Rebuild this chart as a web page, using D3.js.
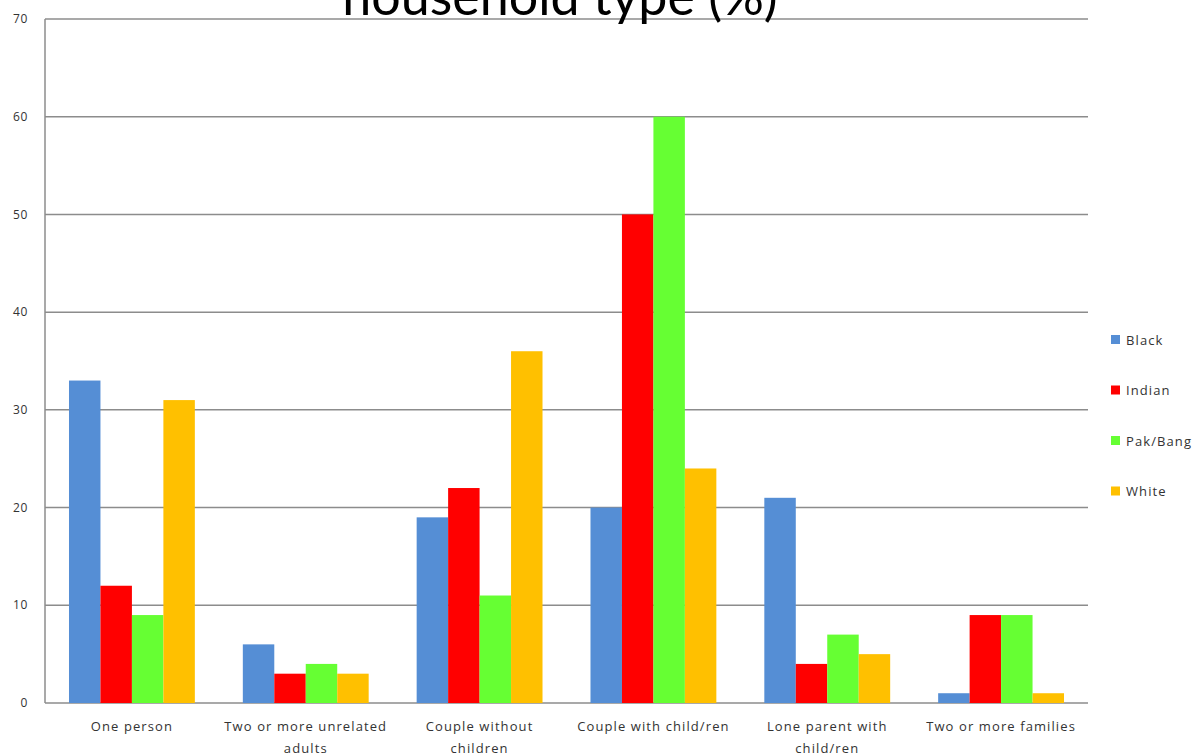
<!DOCTYPE html>
<html>
<head>
<meta charset="utf-8">
<script src="https://cdn.jsdelivr.net/npm/d3@7"></script>
<style>
  body { margin: 0; background: #fff; }
  svg text { font-family: "Open Sans", sans-serif; fill: #333; }
</style>
</head>
<body>
<svg id="chart" width="1200" height="756"></svg>
<script>
// data
const categories = ["One person", "Two or more unrelated adults", "Couple without children",
  "Couple with child/ren", "Lone parent with child/ren", "Two or more families"];
const categoryLines = [["One person"], ["Two or more unrelated", "adults"], ["Couple without", "children"],
  ["Couple with child/ren"], ["Lone parent with", "child/ren"], ["Two or more families"]];
const seriesNames = ["Black", "Indian", "Pak/Bang", "White"];
const black = [33, 6, 19, 20, 21, 1];
const indian = [12, 3, 22, 50, 4, 9];
const pakBang = [9, 4, 11, 60, 7, 9];
const white = [31, 3, 36, 24, 5, 1];
const seriesColors = ["#558ed5", "#ff0000", "#66ff33", "#ffc000"];
const yTicks = [0, 10, 20, 30, 40, 50, 60, 70];

const allSeries = [black, indian, pakBang, white];

const svg = d3.select("#chart");
const margin = {top: 19, right: 112, bottom: 53, left: 45};
const width = 1200 - margin.left - margin.right;
const height = 756 - margin.top - margin.bottom;

const g = svg.append("g").attr("transform", `translate(${margin.left},${margin.top})`);

const x = d3.scaleBand().domain(categories).range([0, width]).paddingInner(0.276).paddingOuter(0.138);
const xs = d3.scaleBand().domain(seriesNames).range([0, x.bandwidth()]);
const y = d3.scaleLinear().domain([0, 70]).range([height, 0]);

// gridlines
g.selectAll(".grid").data(yTicks).enter().append("line")
  .attr("x1", 0).attr("x2", width)
  .attr("y1", d => y(d)).attr("y2", d => y(d))
  .attr("stroke", "#8c8c8c").attr("stroke-width", 1.5);

// bars
seriesNames.forEach((name, si) => {
  g.selectAll(".bar-" + si).data(allSeries[si]).enter().append("rect")
    .attr("x", (d, i) => x(categories[i]) + xs(name))
    .attr("y", d => y(d))
    .attr("width", xs.bandwidth())
    .attr("height", d => height - y(d))
    .attr("fill", seriesColors[si]);
});

// left axis line
g.append("line").attr("x1", 0).attr("x2", 0).attr("y1", 0).attr("y2", height)
  .attr("stroke", "#8c8c8c").attr("stroke-width", 1.5);

// y tick labels
g.selectAll(".ytick").data(yTicks).enter().append("text")
  .attr("x", -17).attr("y", d => y(d)).attr("dy", "0.35em")
  .attr("text-anchor", "end").style("font-size", "12px").style("letter-spacing", "0.6px")
  .text(d => d);

// x labels
const xl = g.selectAll(".xlab").data(categories).enter().append("text")
  .attr("x", d => x(d) + x.bandwidth() / 2)
  .attr("y", height + 28)
  .attr("text-anchor", "middle").style("font-size", "13px").style("letter-spacing", "1.1px");
xl.each(function(d, i) {
  categoryLines[i].forEach((line, li) => {
    d3.select(this).append("tspan")
      .attr("x", x(d) + x.bandwidth() / 2)
      .attr("dy", li === 0 ? 0 : 22)
      .text(line);
  });
});

// legend
const legend = svg.append("g").attr("transform", "translate(1111,340)");
seriesNames.forEach((name, i) => {
  const row = legend.append("g").attr("transform", `translate(0,${i * 50.5})`);
  row.append("rect").attr("x", 0).attr("y", -5).attr("width", 9).attr("height", 9).attr("fill", seriesColors[i]);
  row.append("text").attr("x", 15).attr("y", 0).attr("dy", "0.35em")
    .style("font-size", "13px").style("letter-spacing", "1.1px").text(name);
});

// title (cut off at the top in the reference)
svg.append("text")
  .attr("x", 560).attr("y", 15)
  .attr("text-anchor", "middle")
  .style("font-family", "Lato, sans-serif").style("font-size", "52px").style("fill", "#000")
  .text("household type (%)");
</script>
</body>
</html>
